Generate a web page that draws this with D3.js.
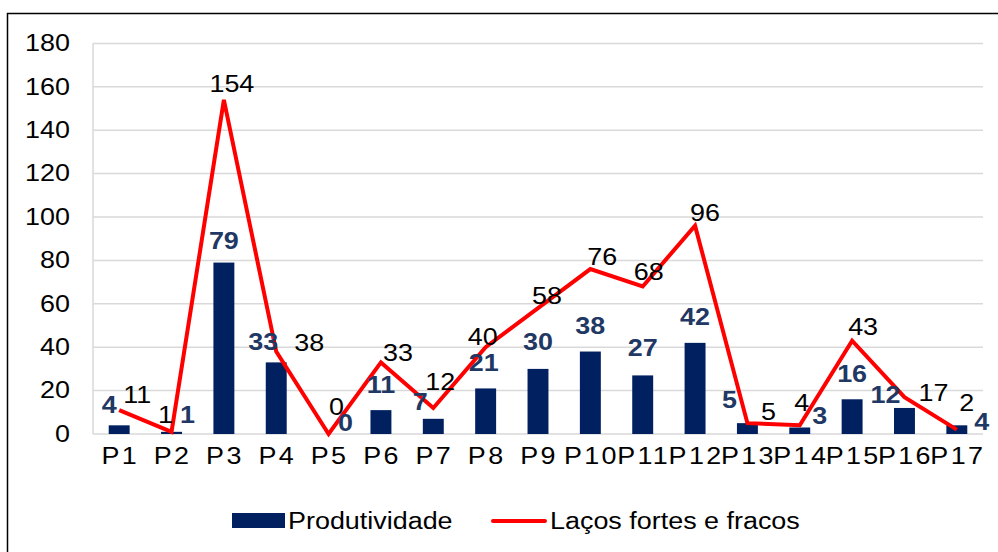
<!DOCTYPE html>
<html>
<head>
<meta charset="utf-8">
<script src="https://cdn.jsdelivr.net/npm/d3@7"></script>
<style>
  body { margin: 0; background: #fff; }
  svg { font-family: "Liberation Sans", Arial, sans-serif; }
</style>
</head>
<body>
<div id="chart"></div>
<script>
// chart data
const categories = ["P1", "P2", "P3", "P4", "P5", "P6", "P7", "P8", "P9", "P10", "P11", "P12", "P13", "P14", "P15", "P16", "P17"];
const produtividade = [4, 1, 79, 33, 0, 11, 7, 21, 30, 38, 27, 42, 5, 3, 16, 12, 4];
const lacos = [11, 1, 154, 38, 0, 33, 12, 40, 58, 76, 68, 96, 5, 4, 43, 17, 2];
const yTicks = [0, 20, 40, 60, 80, 100, 120, 140, 160, 180];

// label nudges (px), as placed in the original
const barLabelNudge = [[-10, -20], [16, -17], [0, -22], [-13, -20], [17, -11], [0, -25], [-13, -17], [-2, -25], [0, -27],
  [0, -26], [0, -27], [0, -26], [-18, -23], [20, -12], [0, -25], [-19, -13], [25, -3]];
const lineLabelNudge = [[18, -15], [-6, -17], [8, -16], [33, -9], [8, -27], [17, -9], [7, -26], [-3, -10], [9, -12],
  [12, -12], [6, -14], [10, -13], [21, -11], [2, -22], [11, -14], [29, -4], [10, -27]];

const width = 998;
const height = 552;
const margin = { top: 43.4, right: 15, bottom: 118, left: 93 };

// the original text is a bit wider than Arial
const widen = 1.17;
function stretch(sel) {
  sel.each(function () {
    const w = this.getComputedTextLength();
    d3.select(this)
      .attr("textLength", w * widen)
      .attr("lengthAdjust", "spacingAndGlyphs");
  });
}

const svg = d3.select("#chart")
  .append("svg")
  .attr("width", width)
  .attr("height", height);

// outer frame
svg.append("rect")
  .attr("x", 7.5)
  .attr("y", 13.5)
  .attr("width", width + 10)
  .attr("height", height + 10)
  .attr("fill", "none")
  .attr("stroke", "#000")
  .attr("stroke-width", 1.5);

const x = d3.scaleBand()
  .domain(categories)
  .range([margin.left, width - margin.right])
  .paddingInner(0.6)
  .paddingOuter(0.3);

// band centre helper
const cx = d => x(d) + x.bandwidth() / 2;

const y = d3.scaleLinear()
  .domain([0, 180])
  .range([height - margin.bottom, margin.top]);

// gridlines
svg.append("g")
  .selectAll("line")
  .data(yTicks)
  .enter()
  .append("line")
  .attr("x1", margin.left)
  .attr("x2", width - margin.right)
  .attr("y1", d => y(d))
  .attr("y2", d => y(d))
  .attr("stroke", "#d9d9d9")
  .attr("stroke-width", 1.5);

svg.append("line")
  .attr("x1", margin.left)
  .attr("x2", margin.left)
  .attr("y1", y(180))
  .attr("y2", y(0))
  .attr("stroke", "#d9d9d9")
  .attr("stroke-width", 1.5);

// y axis labels
const yAxis = d3.axisLeft(y).tickValues(yTicks).tickSize(0).tickPadding(23);
svg.append("g")
  .attr("transform", "translate(" + margin.left + ",0)")
  .call(yAxis)
  .call(g => g.select(".domain").remove())
  .selectAll("text")
  .attr("font-size", 23)
  .attr("fill", "#000")
  .attr("font-family", "Liberation Sans, Arial, sans-serif")
  .call(stretch);

// x axis labels
const xAxis = d3.axisBottom(x).tickSize(0).tickPadding(14);
svg.append("g")
  .attr("transform", "translate(0," + y(0) + ")")
  .call(xAxis)
  .call(g => g.select(".domain").remove())
  .selectAll("text")
  .attr("font-size", 23)
  .attr("letter-spacing", 2)
  .attr("dx", 1)
  .attr("fill", "#000")
  .attr("font-family", "Liberation Sans, Arial, sans-serif")
  .call(stretch);

// bars
svg.selectAll(".bar")
  .data(produtividade)
  .enter()
  .append("rect")
  .attr("class", "bar")
  .attr("x", (d, i) => x(categories[i]))
  .attr("y", d => y(d))
  .attr("width", x.bandwidth())
  .attr("height", d => y(0) - y(d))
  .attr("fill", "#002060");

// line
const line = d3.line()
  .x((d, i) => cx(categories[i]))
  .y(d => y(d));

svg.append("path")
  .datum(lacos)
  .attr("d", line)
  .attr("fill", "none")
  .attr("stroke", "#ff0000")
  .attr("stroke-width", 4)
  .attr("stroke-linejoin", "miter");

// bar value labels
svg.selectAll(".barLabel")
  .data(produtividade)
  .enter()
  .append("text")
  .attr("class", "barLabel")
  .text(d => d)
  .attr("x", (d, i) => cx(categories[i]) + barLabelNudge[i][0])
  .attr("y", (d, i) => y(d) + barLabelNudge[i][1])
  .attr("dy", "0.35em")
  .attr("text-anchor", "middle")
  .attr("font-size", 23)
  .attr("font-weight", "bold")
  .attr("fill", "#1f3864")
  .call(stretch);

// line value labels
svg.selectAll(".lineLabel")
  .data(lacos)
  .enter()
  .append("text")
  .attr("class", "lineLabel")
  .text(d => d)
  .attr("x", (d, i) => cx(categories[i]) + lineLabelNudge[i][0])
  .attr("y", (d, i) => y(d) + lineLabelNudge[i][1])
  .attr("dy", "0.35em")
  .attr("text-anchor", "middle")
  .attr("font-size", 23)
  .attr("fill", "#000")
  .call(stretch);

// legend
const legend = svg.append("g").attr("font-size", 23);
legend.append("rect")
  .attr("x", 232)
  .attr("y", 513)
  .attr("width", 53)
  .attr("height", 15)
  .attr("fill", "#002060");
legend.append("text")
  .attr("x", 288)
  .attr("y", 521)
  .attr("dy", "0.35em")
  .text("Produtividade")
  .call(stretch);
legend.append("line")
  .attr("x1", 493)
  .attr("x2", 545)
  .attr("y1", 521)
  .attr("y2", 521)
  .attr("stroke", "#ff0000")
  .attr("stroke-width", 4)
  .attr("stroke-linecap", "round");
legend.append("text")
  .attr("x", 550)
  .attr("y", 521)
  .attr("dy", "0.35em")
  .text("Laços fortes e fracos")
  .call(stretch);
</script>
</body>
</html>
